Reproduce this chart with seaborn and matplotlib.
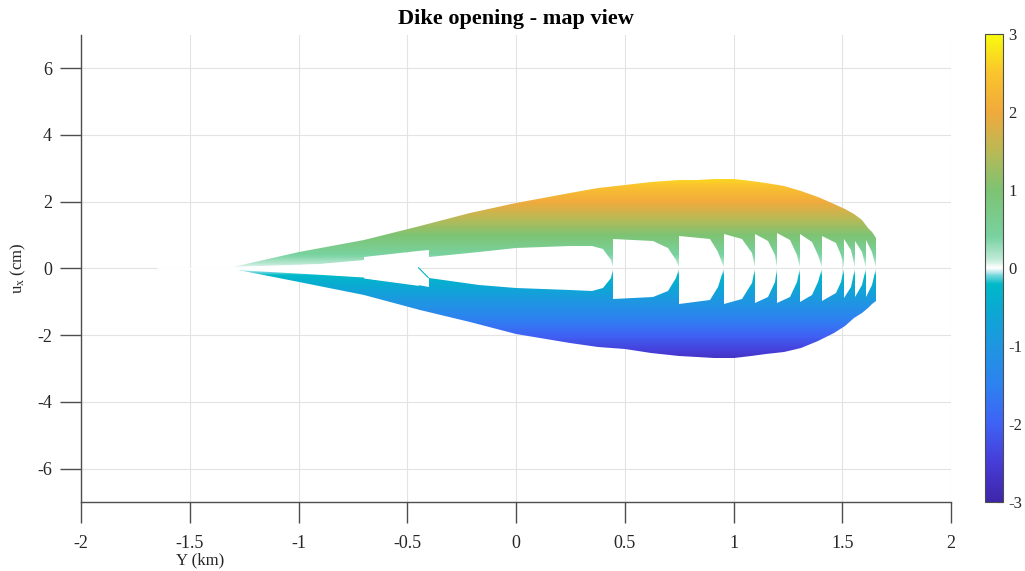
import numpy as np
import matplotlib
matplotlib.use("Agg")
import matplotlib.pyplot as plt
import seaborn as sns
from matplotlib.path import Path
from matplotlib.patches import PathPatch
from matplotlib.colors import LinearSegmentedColormap, Normalize

# ---- outer envelope of the dike walls (Y in km, u_x in cm) ----
outer_y = [-1.65, -1.30, -1.00, -0.70, -0.44, -0.21, 0.00, 0.25, 0.375, 0.50,
           0.62, 0.75, 0.83, 0.91, 1.00, 1.08, 1.15, 1.23, 1.31, 1.39,
           1.46, 1.51, 1.554, 1.59, 1.616, 1.635, 1.654]
outer_top = [0.03, 0.03, 0.50, 0.84, 1.27, 1.67, 1.97, 2.27, 2.40, 2.50,
             2.58, 2.64, 2.66, 2.67, 2.67, 2.63, 2.57, 2.47, 2.32, 2.15,
             1.92, 1.78, 1.62, 1.45, 1.22, 1.08, 0.92]
outer_bot = [-0.03, -0.03, -0.41, -0.81, -1.26, -1.62, -1.98, -2.25, -2.35, -2.43,
             -2.54, -2.62, -2.66, -2.68, -2.68, -2.64, -2.58, -2.50, -2.38, -2.18,
             -1.93, -1.72, -1.48, -1.33, -1.18, -1.08, -0.98]

# ---- inner edge of the opening, segment by segment ----
inner_y = [-1.65, -1.30, -0.90, -0.70, -0.70, -0.449,
           -0.40, -0.40, -0.17, 0.00, 0.25, 0.35, 0.40, 0.435, 0.447,
           0.447, 0.63, 0.70, 0.735, 0.749,
           0.749, 0.89, 0.93, 0.954,
           0.954, 1.04, 1.085, 1.10,
           1.10, 1.16, 1.19, 1.20,
           1.20, 1.26, 1.29, 1.303,
           1.303, 1.36, 1.39, 1.405,
           1.405, 1.47, 1.495, 1.508,
           1.508, 1.54, 1.557,
           1.557, 1.59, 1.608,
           1.608, 1.635, 1.654]
inner_top = [0.03, 0.03, 0.14, 0.24, 0.34, 0.51,
             0.54, 0.34, 0.50, 0.62, 0.67, 0.67, 0.57, 0.25, 0.0,
             0.87, 0.82, 0.60, 0.25, 0.0,
             0.97, 0.87, 0.50, 0.0,
             1.02, 0.88, 0.45, 0.0,
             1.02, 0.82, 0.40, 0.0,
             1.07, 0.85, 0.40, 0.0,
             1.02, 0.80, 0.40, 0.0,
             0.97, 0.75, 0.40, 0.0,
             0.87, 0.55, 0.0,
             0.82, 0.50, 0.0,
             0.85, 0.50, 0.0]
inner_bot = [-0.03, -0.03, -0.18, -0.26, -0.29, -0.51,
             -0.55, -0.30, -0.49, -0.58, -0.66, -0.68, -0.60, -0.30, 0.0,
             -0.93, -0.86, -0.68, -0.30, 0.0,
             -1.06, -0.95, -0.55, 0.0,
             -1.06, -0.92, -0.45, 0.0,
             -1.03, -0.85, -0.40, 0.0,
             -1.03, -0.85, -0.40, 0.0,
             -1.00, -0.80, -0.40, 0.0,
             -0.97, -0.75, -0.40, 0.0,
             -0.90, -0.55, 0.0,
             -0.85, -0.50, 0.0,
             -0.85, -0.50, 0.0]
n_core = 6  # closed (zero-opening) part of the dike near its tip

# thin seam where the closed part meets the open part
seam_y = [-0.449, -0.403]
seam_u = [0.02, -0.28]

# ---- diverging colormap: parula-like halves around a white zero ----
cmap_vals = [-3.0, -2.5, -2.0, -1.5, -1.0, -0.5, -0.2, -0.08, 0.0,
             0.12, 0.4, 1.0, 1.5, 2.0, 2.5, 3.0]
cmap_cols = ["#3e26a8", "#463cd7", "#3f62f5", "#2d82f0", "#1e96e1", "#0aaad2",
             "#00b9c8", "#8cdce1", "#ffffff", "#bee9d6", "#78d2a0", "#7dc373",
             "#b9b955", "#f0aa3c", "#fac32d", "#f9fb0e"]
vmin, vmax = -3, 3
cmap = LinearSegmentedColormap.from_list(
    "dike", [((v - vmin) / (vmax - vmin), c) for v, c in zip(cmap_vals, cmap_cols)], N=512)
norm = Normalize(vmin, vmax)

x_ticks = [-2, -1.5, -1, -0.5, 0, 0.5, 1, 1.5, 2]
x_labels = ["-2", "-1.5", "-1", "-0.5", "0", "0.5", "1", "1.5", "2"]
y_ticks = [-6, -4, -2, 0, 2, 4, 6]
cbar_ticks = [-3, -2, -1, 0, 1, 2, 3]

sns.set_theme(style="whitegrid")
plt.rcParams["font.family"] = ["Liberation Serif", "DejaVu Serif"]
plt.rcParams["mathtext.fontset"] = "custom"
plt.rcParams["mathtext.rm"] = "Liberation Serif"
plt.rcParams["axes.unicode_minus"] = False

fig = plt.figure(figsize=(10.25, 5.71), dpi=100)
ax = fig.add_axes([0.079, 0.121, 0.849, 0.818])
cax = fig.add_axes([0.961, 0.121, 0.0176, 0.819])

ax.set_facecolor("white")
ax.set_axisbelow(True)
ax.grid(True, color="#e3e3e3", linewidth=0.8)

# colour field: each point coloured by its own u_x value
gy = np.linspace(-1.7, 1.7, 700)
gu = np.linspace(-3.0, 3.0, 700)
GY, GU = np.meshgrid(gy, gu)
mesh = ax.pcolormesh(GY, GU, GU, cmap=cmap, norm=norm, shading="auto", zorder=2)

upper = list(zip(outer_y, outer_top)) + list(zip(inner_y[::-1], inner_top[::-1]))
lower = list(zip(outer_y, outer_bot)) + list(zip(inner_y[::-1], inner_bot[::-1]))
verts, codes = [], []
for poly in (upper, lower):
    verts += poly + [poly[0]]
    codes += [Path.MOVETO] + [Path.LINETO] * (len(poly) - 1) + [Path.CLOSEPOLY]
clip = PathPatch(Path(verts, codes), transform=ax.transData, facecolor="none", edgecolor="none")
ax.add_patch(clip)
mesh.set_clip_path(clip)

# closed part of the dike (zero opening)
core_y = inner_y[:n_core]
ax.fill_between(core_y, inner_bot[:n_core], inner_top[:n_core],
                color="white", linewidth=0, zorder=2.5)
ax.plot(seam_y, seam_u, color=cmap(norm(-0.25)), linewidth=0.8, zorder=3)

ax.set_xlim(-2, 2)
ax.set_ylim(-7, 7)
ax.set_xticks(x_ticks)
ax.set_xticklabels(x_labels)
ax.set_yticks(y_ticks)

for s in ("top", "right"):
    ax.spines[s].set_visible(False)
for s in ("left", "bottom"):
    ax.spines[s].set_visible(True)
    ax.spines[s].set_color("#4d4d4d")
    ax.spines[s].set_linewidth(1.0)

ax.tick_params(axis="x", direction="out", length=15, width=1.0, color="#4d4d4d",
               pad=9, labelsize=13, labelcolor="#262626", bottom=True)
ax.tick_params(axis="y", direction="out", length=15, width=1.0, color="#4d4d4d",
               pad=6, labelsize=13, labelcolor="#262626", left=True)

ax.set_xlabel("Y (km)", fontsize=12, color="#262626", va="center")
ax.xaxis.set_label_coords(0.137, -0.126)
ax.set_ylabel(r"$\mathrm{u_x}$ (cm)", fontsize=12, color="#262626")
ax.yaxis.set_label_coords(-0.061, 0.5)
ax.set_title("Dike opening - map view", fontsize=16, fontweight="bold",
             color="black", pad=8)

cb = fig.colorbar(mesh, cax=cax, ticks=cbar_ticks)
cb.outline.set_edgecolor("#4d4d4d")
cb.outline.set_linewidth(0.8)
cax.tick_params(direction="in", length=4, width=0.8, color="#4d4d4d",
                labelsize=12, labelcolor="#262626", pad=4)
cax.grid(False)

fig.savefig("out.png", dpi=100, facecolor="white")
